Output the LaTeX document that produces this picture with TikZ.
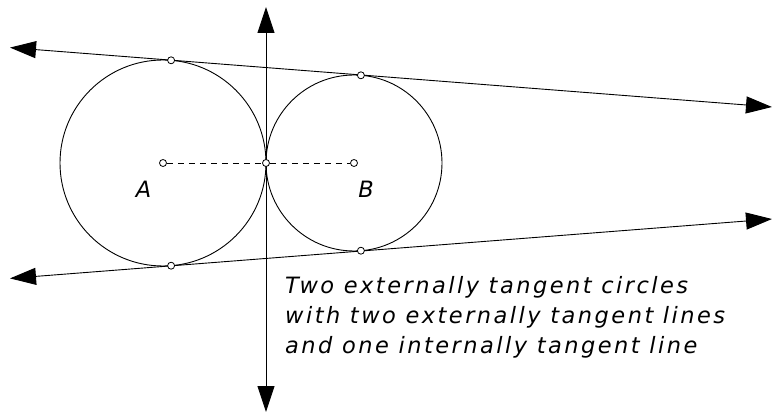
\documentclass[tikz,border=0pt]{standalone}
\usepackage{fontspec}
\setmainfont{DejaVu Sans}
\newfontfamily\captionfont[LetterSpace=11]{DejaVu Sans}
\usetikzlibrary{arrows.meta,calc}
\begin{document}
\begin{tikzpicture}[x=1pt,y=-1pt,
  thinline/.style={line width=0.9pt,black},
  bothtip/.style={{Triangle[length=26pt,width=17pt]}-{Triangle[length=26pt,width=17pt]}},
  dot/.style={circle,draw=black,fill=white,line width=0.8pt,minimum size=7pt,inner sep=0pt},
  lbl/.style={font=\fontsize{22.5}{26}\selectfont\itshape,anchor=base,inner sep=0pt},
  capt/.style={font=\fontsize{22.5}{30}\selectfont\captionfont\itshape,align=left,anchor=base west,inner sep=0pt}]
\useasboundingbox (0,0) rectangle (772,417);
% circles
\draw[thinline] (163,163) circle[radius=103];
\draw[thinline] (354,163) circle[radius=88];
% endpoints
\coordinate (UL) at (10,47.6);
\coordinate (UR) at (772,107);
\coordinate (LL) at (10,278.4);
\coordinate (LR) at (772,219);
\coordinate (VT) at (266,7);
\coordinate (VB) at (266,412);
% lines
\draw[thinline,bothtip] (UL) -- (UR);
\draw[thinline,bothtip] (LL) -- (LR);
\draw[thinline,bothtip] (VT) -- (VB);
% points
\node[dot] (A) at (163,163) {};
\node[dot] (B) at (354,163) {};
\node[dot] (T) at (266,163) {};
\draw[thinline,dashed,dash pattern=on 6pt off 5pt] (A) -- (T);
\draw[thinline,dashed,dash pattern=on 6pt off 5pt] (T) -- (B);
\node[dot] (TA1) at (171.1,60.3) {};
\node[dot] (TB1) at (360.9,75.3) {};
\node[dot] (TA2) at (171.1,265.7) {};
\node[dot] (TB2) at (360.9,250.7) {};
% labels
\node[lbl] (la) at (143.5,198) {A};
\node[lbl] (lb) at (366,198) {B};
\node[capt] (cap) at (285,353) {Two externally tangent circles\\with two externally tangent lines\\and one internally tangent line};
\end{tikzpicture}
\end{document}
